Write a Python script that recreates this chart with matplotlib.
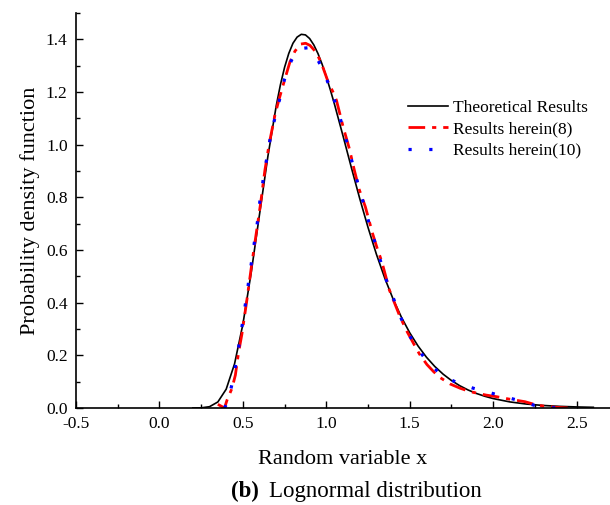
import numpy as np
import matplotlib
matplotlib.use("Agg")
import matplotlib.pyplot as plt
from matplotlib.ticker import MultipleLocator

plt.rcParams['font.family'] = ['Liberation Serif', 'DejaVu Serif']

# theoretical lognormal pdf
x_theo = [0.20, 0.25, 0.30, 0.35, 0.40, 0.45, 0.50, 0.55, 0.60, 0.65, 0.70, 0.725,
          0.75, 0.775, 0.80, 0.825, 0.85, 0.875, 0.90, 0.925, 0.95, 0.975, 1.00,
          1.025, 1.05, 1.10, 1.15, 1.20, 1.25, 1.30, 1.35,
          1.40, 1.45, 1.50, 1.55, 1.60, 1.65, 1.70, 1.75, 1.80, 1.85, 1.90, 1.95,
          2.00, 2.10, 2.20, 2.30, 2.40, 2.50, 2.60]
y_theo = [0.0000, 0.0006, 0.0049, 0.0229, 0.0714, 0.1674, 0.3179, 0.5147, 0.7365,
          0.956, 1.148, 1.2276, 1.294, 1.3464, 1.385, 1.4085, 1.419, 1.4168, 1.403,
          1.3789, 1.346, 1.3051, 1.258, 1.2064, 1.151, 1.0335,
          0.9131, 0.7959, 0.6856, 0.5843, 0.4937, 0.4140, 0.3448, 0.2855, 0.2352,
          0.1929, 0.1577, 0.1285, 0.1043, 0.0845, 0.0683, 0.0551, 0.0445, 0.0358,
          0.0231, 0.0149, 0.0096, 0.0062, 0.0040, 0.0026]

# results herein (8)
x_r8 = [0.35, 0.39, 0.405, 0.435, 0.455, 0.474, 0.494, 0.524, 0.554, 0.584, 0.606,
        0.632, 0.658, 0.692, 0.718, 0.752, 0.782, 0.812, 0.846, 0.876, 0.902, 0.94,
        0.972, 1.01, 1.04, 1.061, 1.101, 1.138, 1.168, 1.197, 1.234, 1.277, 1.302,
        1.333, 1.378, 1.442, 1.484, 1.528, 1.558, 1.603, 1.643, 1.683, 1.743, 1.802,
        1.862, 1.958, 2.02, 2.077, 2.131, 2.19, 2.24, 2.295, 2.37, 2.45]
y_r8 = [0.014, 0.0, 0.03, 0.075, 0.125, 0.21, 0.28, 0.41, 0.55, 0.68, 0.776,
        0.903, 1.004, 1.112, 1.175, 1.25, 1.314, 1.355, 1.382, 1.385, 1.377, 1.35,
        1.307, 1.24, 1.20, 1.168, 1.067, 0.985, 0.903, 0.83, 0.764, 0.663, 0.612,
        0.555, 0.448, 0.346, 0.29, 0.239, 0.205, 0.165, 0.138, 0.115, 0.091, 0.075,
        0.062, 0.049, 0.043, 0.036, 0.03, 0.024, 0.015, 0.008, 0.003, 0.0]

# results herein (10)
x_r10 = [0.39, 0.412, 0.432, 0.452, 0.466, 0.482, 0.514, 0.544, 0.568, 0.592, 0.602,
         0.616, 0.628, 0.646, 0.662, 0.682, 0.702, 0.728, 0.749, 0.791, 0.821, 0.846,
         0.89, 0.936, 0.986, 1.019, 1.052, 1.082, 1.132, 1.157, 1.181, 1.207, 1.234,
         1.258, 1.286, 1.314, 1.341, 1.372, 1.408, 1.442, 1.486, 1.538, 1.609, 1.697,
         1.791, 1.881, 1.975, 2.067, 2.156, 2.247, 2.341, 2.45]
y_r10 = [0.0, 0.028, 0.083, 0.144, 0.201, 0.258, 0.39, 0.52, 0.625, 0.726, 0.786,
         0.842, 0.896, 0.956, 1.017, 1.074, 1.13, 1.19, 1.247, 1.32, 1.352, 1.365,
         1.368, 1.338, 1.276, 1.22, 1.162, 1.103, 0.989, 0.928, 0.871, 0.81, 0.755,
         0.697, 0.64, 0.583, 0.521, 0.463, 0.407, 0.349, 0.289, 0.233, 0.173, 0.122,
         0.094, 0.075, 0.059, 0.043, 0.028, 0.010, 0.001, 0.0]

fig = plt.figure(figsize=(6.1, 5.05), dpi=100)
ax = fig.add_axes([76/610, 97/505, 534/610, 395/505])

ax.plot(x_theo, y_theo, color='black', lw=1.2, label='Theoretical Results')
ax.plot(x_r8, y_r8, color='red', lw=2.0, linestyle=(0, (6, 2.5, 1.5, 2.5)),
        label='Results herein(8)')
ax.plot(x_r10, y_r10, color='blue', lw=2.3, linestyle=(0, (1, 5.5)),
        dash_capstyle='butt', label='Results herein(10)')

ax.set_xlim(-0.5, 2.7)
ax.set_ylim(0, 1.5)
ax.xaxis.set_major_locator(MultipleLocator(0.5))
ax.xaxis.set_minor_locator(MultipleLocator(0.25))
ax.yaxis.set_major_locator(MultipleLocator(0.2))
ax.yaxis.set_minor_locator(MultipleLocator(0.1))
ax.xaxis.set_major_formatter(matplotlib.ticker.FormatStrFormatter('%.1f'))
ax.yaxis.set_major_formatter(matplotlib.ticker.FormatStrFormatter('%.1f'))
ax.tick_params(which='both', direction='in', width=1.0, labelsize=12.5)
ax.tick_params(which='major', length=5)
ax.tick_params(which='minor', length=3)
ax.tick_params(axis='x', pad=6)
ax.tick_params(axis='y', pad=6)
for s in ['top', 'right']:
    ax.spines[s].set_visible(False)
for s in ['left', 'bottom']:
    ax.spines[s].set_linewidth(1.2)

ax.set_xlabel('Random variable x', fontsize=16, labelpad=13)
ax.set_ylabel('Probability density function', fontsize=16, labelpad=4)

ax.legend(loc='upper left', bbox_to_anchor=(408/610, 1 - 100/505),
          bbox_transform=fig.transFigure, frameon=False, fontsize=12.5,
          borderpad=0, borderaxespad=0, handlelength=2.3, handletextpad=0.3,
          labelspacing=0.3)

fig.text(231/610, 1 - 491/505, '(b)', fontsize=16.5, fontweight='bold',
         ha='left', va='center')
fig.text(269/610, 1 - 491/505, 'Lognormal distribution', fontsize=16.5,
         ha='left', va='center')

fig.savefig('out.png', dpi=100)
